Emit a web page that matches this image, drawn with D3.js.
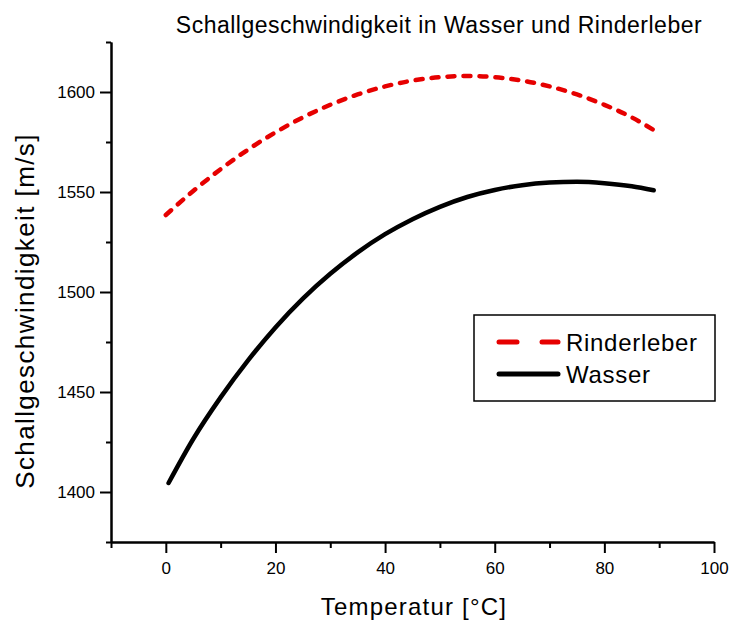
<!DOCTYPE html>
<html>
<head>
<meta charset="utf-8">
<script src="https://cdn.jsdelivr.net/npm/d3@7"></script>
<style>
  html, body { margin: 0; padding: 0; background: #fff; }
  svg { display: block; font-family: "Liberation Sans", Arial, sans-serif; }
</style>
</head>
<body>
<svg id="chart" width="733" height="623"></svg>
<script>
// Temperature samples (°C)
const temperature = [0, 5, 10, 15, 20, 25, 30, 35, 40, 45, 50, 55, 60, 65, 70, 75, 80, 85, 89];
const temperatureWasser = [0.5, 5, 10, 15, 20, 25, 30, 35, 40, 45, 50, 55, 60, 65, 70, 75, 80, 85, 89];

// Speed of sound (m/s)
const rinderleber = [1538.5, 1550.5, 1561.4, 1571.2, 1579.8, 1587.3, 1593.6, 1598.8, 1602.8, 1605.7,
                     1607.4, 1608.0, 1607.4, 1605.7, 1602.8, 1598.8, 1593.6, 1587.3, 1581.0];
const wasser = [1404.5, 1426.5, 1447.3, 1465.8, 1482.3, 1496.7, 1509.1, 1519.8, 1528.9, 1536.4,
                1542.6, 1547.5, 1551.0, 1553.4, 1554.7, 1555.1, 1554.4, 1552.9, 1550.9];

const xMajorTicks = [0, 20, 40, 60, 80, 100];
const xMinorTicks = [-10, 10, 30, 50, 70, 90];
const yMajorTicks = [1400, 1450, 1500, 1550, 1600];
const yMinorTicks = [1375, 1425, 1475, 1525, 1575, 1625];

const seriesNames = ["Rinderleber", "Wasser"];
const titleText = "Schallgeschwindigkeit in Wasser und Rinderleber";
const xTitle = "Temperatur [°C]";
const yTitle = "Schallgeschwindigkeit [m/s]";

const svg = d3.select("#chart");
const plotLeft = 111, plotRight = 714, plotTop = 42, plotBottom = 542;

const x = d3.scaleLinear().domain([-10, 100]).range([plotLeft, plotRight]);
const y = d3.scaleLinear().domain([1375, 1625]).range([plotBottom, plotTop]);

// Axes: major and minor ticks drawn outward
function styleAxis(g) {
  g.selectAll("path.domain").attr("stroke", "#000").attr("stroke-width", 2);
  g.selectAll(".tick line").attr("stroke", "#000").attr("stroke-width", 2);
  g.selectAll(".tick text").attr("fill", "#000").style("font-size", "17px")
    .style("font-family", "'Liberation Sans', Arial, sans-serif");
}

svg.append("g").attr("transform", `translate(0,${plotBottom})`)
  .call(d3.axisBottom(x).tickValues(xMinorTicks).tickFormat("").tickSize(6).tickSizeOuter(0))
  .call(styleAxis);
svg.append("g").attr("transform", `translate(0,${plotBottom})`)
  .call(d3.axisBottom(x).tickValues(xMajorTicks).tickFormat(d3.format("d")).tickSize(11).tickPadding(9).tickSizeOuter(0))
  .call(styleAxis);

svg.append("g").attr("transform", `translate(${plotLeft},0)`)
  .call(d3.axisLeft(y).tickValues(yMinorTicks).tickFormat("").tickSize(5).tickSizeOuter(0))
  .call(styleAxis);
svg.append("g").attr("transform", `translate(${plotLeft},0)`)
  .call(d3.axisLeft(y).tickValues(yMajorTicks).tickFormat(d3.format("d")).tickSize(11).tickPadding(5).tickSizeOuter(0))
  .call(styleAxis);

// Curves
const line = d3.line().curve(d3.curveMonotoneX);

svg.append("path")
  .attr("d", line(temperatureWasser.map((t, i) => [x(t), y(wasser[i])])))
  .attr("fill", "none").attr("stroke", "#000").attr("stroke-width", 4.5)
  .attr("stroke-linecap", "round").attr("stroke-linejoin", "round");

svg.append("path")
  .attr("d", line(temperature.map((t, i) => [x(t), y(rinderleber[i])])))
  .attr("fill", "none").attr("stroke", "#e60000").attr("stroke-width", 4.5)
  .attr("stroke-dasharray", "7,9").attr("stroke-linecap", "round");

// Titles
svg.append("text").attr("x", 439).attr("y", 33).attr("text-anchor", "middle")
  .style("font-size", "23px").style("letter-spacing", "0.5px").text(titleText);

svg.append("text").attr("x", 414).attr("y", 615).attr("text-anchor", "middle")
  .style("font-size", "24px").style("letter-spacing", "1.2px").text(xTitle);

svg.append("text").attr("transform", `translate(34,311) rotate(-90)`).attr("text-anchor", "middle")
  .style("font-size", "26px").style("letter-spacing", "1.4px").text(yTitle);

// Legend
const legend = svg.append("g");
legend.append("rect").attr("x", 474).attr("y", 315).attr("width", 241).attr("height", 86)
  .attr("fill", "#fff").attr("stroke", "#000").attr("stroke-width", 1.5);

const legendColors = ["#e60000", "#000"];
const legendY = [342, 374];
// dashed sample for Rinderleber
[[499, 517], [542, 558]].forEach(([a, b]) => {
  legend.append("line").attr("x1", a).attr("x2", b).attr("y1", legendY[0]).attr("y2", legendY[0])
    .attr("stroke", legendColors[0]).attr("stroke-width", 5).attr("stroke-linecap", "round");
});
legend.append("line").attr("x1", 499).attr("x2", 558).attr("y1", legendY[1]).attr("y2", legendY[1])
  .attr("stroke", legendColors[1]).attr("stroke-width", 5).attr("stroke-linecap", "round");

seriesNames.forEach((name, i) => {
  legend.append("text").attr("x", 566).attr("y", legendY[i] + 8.5)
    .style("font-size", "24px").style("letter-spacing", "0.7px").text(name);
});
</script>
</body>
</html>
